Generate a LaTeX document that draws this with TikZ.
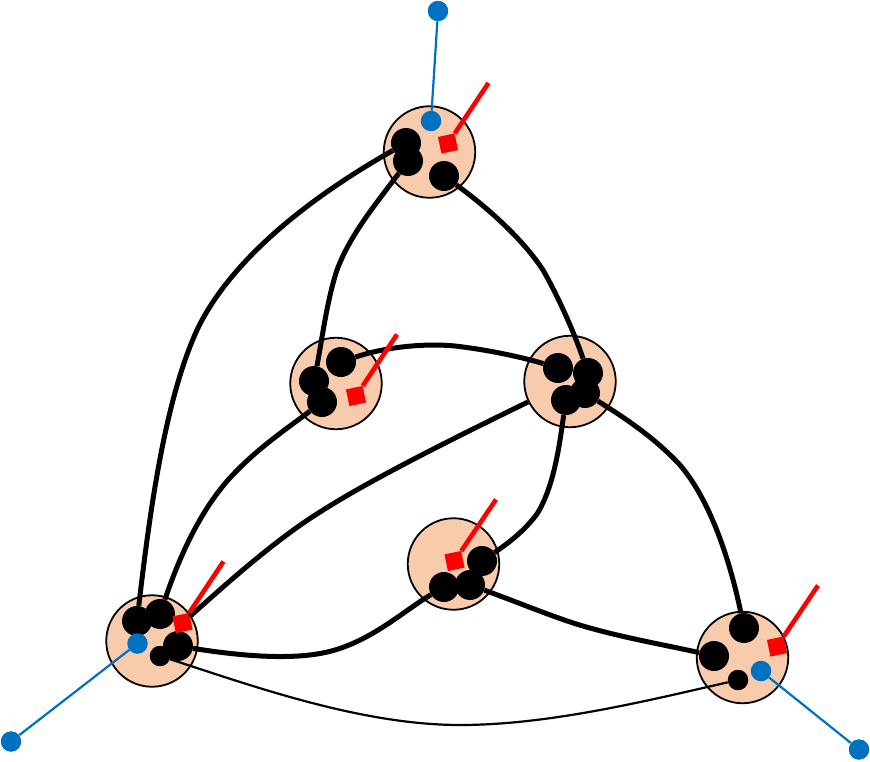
\documentclass[tikz,border=0pt]{standalone}
\usepackage{xcolor}
\usepackage{tikz}
\usetikzlibrary{shapes.geometric, positioning}
\definecolor{hubcolor}{RGB}{248, 203, 173}
\definecolor{tapcolor}{RGB}{0, 112, 192}

\begin{document}
\begin{tikzpicture}[
    x=1pt, y=-1pt,
    hub/.style={draw, fill=hubcolor, circle, line width=1.8pt, minimum size=91.5pt, inner sep=0pt},
    port/.style={fill=black, circle, minimum size=30pt, inner sep=0pt},
    smallport/.style={fill=black, circle, minimum size=20.5pt, inner sep=0pt},
    tap/.style={fill=tapcolor, circle, minimum size=20.5pt, inner sep=0pt},
    marker/.style={fill=red, rectangle, rotate=12, minimum size=17pt, inner sep=0pt},
    trunk/.style={line width=5pt},
    thinlink/.style={line width=2.2pt},
    redline/.style={draw=red, line width=4.6pt},
    blueline/.style={draw=tapcolor, line width=2.2pt}
]
    \useasboundingbox (0, 0) rectangle (870, 761);

    % Hubs
    \node[hub] (top) at (429.5, 152) {};
    \node[hub] (left) at (336, 383.5) {};
    \node[hub] (right) at (570, 381.5) {};
    \node[hub] (center) at (453.5, 564) {};
    \node[hub] (botl) at (152, 641) {};
    \node[hub] (botr) at (742.5, 657.5) {};

    % Ports
    \node[port] (topa) at (406, 143) {};
    \node[port] (topb) at (408, 161) {};
    \node[port] (topc) at (444, 176) {};

    \node[port] (lefta) at (341, 362) {};
    \node[port] (leftb) at (314, 381) {};
    \node[port] (leftc) at (322, 402) {};

    \node[port] (righta) at (558, 368) {};
    \node[port] (rightb) at (588, 373) {};
    \node[port] (rightc) at (585, 393) {};
    \node[port] (rightd) at (566, 400) {};

    \node[port] (centera) at (482, 561) {};
    \node[port] (centerb) at (470, 585) {};
    \node[port] (centerc) at (444, 587) {};

    \node[port] (botla) at (137, 621) {};
    \node[port] (botlb) at (160, 614) {};
    \node[port] (botlc) at (178, 646) {};
    \node[smallport] (botld) at (160, 656) {};

    \node[port] (botra) at (744, 628) {};
    \node[port] (botrb) at (714, 656) {};
    \node[smallport] (botrc) at (738, 680) {};

    % Markers
    \node[marker] (marktop) at (448, 143.5) {};
    \node[marker] (markleft) at (356, 396) {};
    \node[marker] (markcenter) at (454.5, 561) {};
    \node[marker] (markbotl) at (182.5, 623) {};
    \node[marker] (markbotr) at (777, 646.5) {};

    \coordinate (flagtop) at (488.5, 83);
    \coordinate (flagleft) at (397, 334.5);
    \coordinate (flagcenter) at (496, 499.5);
    \coordinate (flagbotl) at (223.5, 561.5);
    \coordinate (flagbotr) at (818, 585.5);

    % Tapping points
    \node[tap] (taptop) at (431, 121) {};
    \node[tap] (tapbotl) at (137.5, 643.5) {};
    \node[tap] (tapbotr) at (761, 671) {};
    \node[tap] (endtop) at (438, 11) {};
    \node[tap] (endbotl) at (11, 741.5) {};
    \node[tap] (endbotr) at (859, 749.5) {};

    % Connections
    \draw[trunk] (topa) .. controls (300, 203) and (228, 265) .. (197, 330)
        .. controls (165, 400) and (150, 510) .. (botla);
    \draw[trunk] (topb) .. controls (375, 205) and (350, 235) .. (337, 270)
        .. controls (327, 300) and (322, 340) .. (leftb);
    \draw[trunk] (topc) .. controls (480, 202) and (520, 235) .. (543, 270)
        .. controls (560, 300) and (575, 335) .. (rightb);
    \draw[trunk] (lefta) .. controls (385, 347) and (425, 343) .. (455, 346)
        .. controls (490, 350) and (525, 358) .. (righta);
    \draw[trunk] (leftc) .. controls (285, 430) and (255, 450) .. (228, 480)
        .. controls (200, 512) and (180, 555) .. (botlb);
    \draw[trunk] (right) .. controls (450, 440) and (370, 480) .. (320, 512)
        .. controls (275, 540) and (225, 585) .. (markbotl);
    \draw[trunk] (rightd) .. controls (560, 440) and (555, 485) .. (537, 514)
        .. controls (525, 530) and (510, 542) .. (centera);
    \draw[trunk] (rightc) .. controls (625, 418) and (655, 438) .. (680, 465)
        .. controls (710, 500) and (730, 560) .. (botra);
    \draw[trunk] (centerc) .. controls (405, 610) and (375, 638) .. (335, 650)
        .. controls (295, 662) and (235, 655) .. (botlc);
    \draw[trunk] (centerb) .. controls (520, 603) and (560, 620) .. (590, 628)
        .. controls (625, 638) and (670, 646) .. (botrb);
    \draw[thinlink] (botld) .. controls (250, 685) and (360, 725) .. (460, 725)
        .. controls (550, 725) and (650, 700) .. (botrc);

    % Flags
    \draw[redline] (marktop) -- (flagtop);
    \draw[redline] (markleft) -- (flagleft);
    \draw[redline] (markcenter) -- (flagcenter);
    \draw[redline] (markbotl) -- (flagbotl);
    \draw[redline] (markbotr) -- (flagbotr);

    % Taps
    \draw[blueline] (taptop) -- (endtop);
    \draw[blueline] (tapbotl) -- (endbotl);
    \draw[blueline] (tapbotr) -- (endbotr);
\end{tikzpicture}
\end{document}
